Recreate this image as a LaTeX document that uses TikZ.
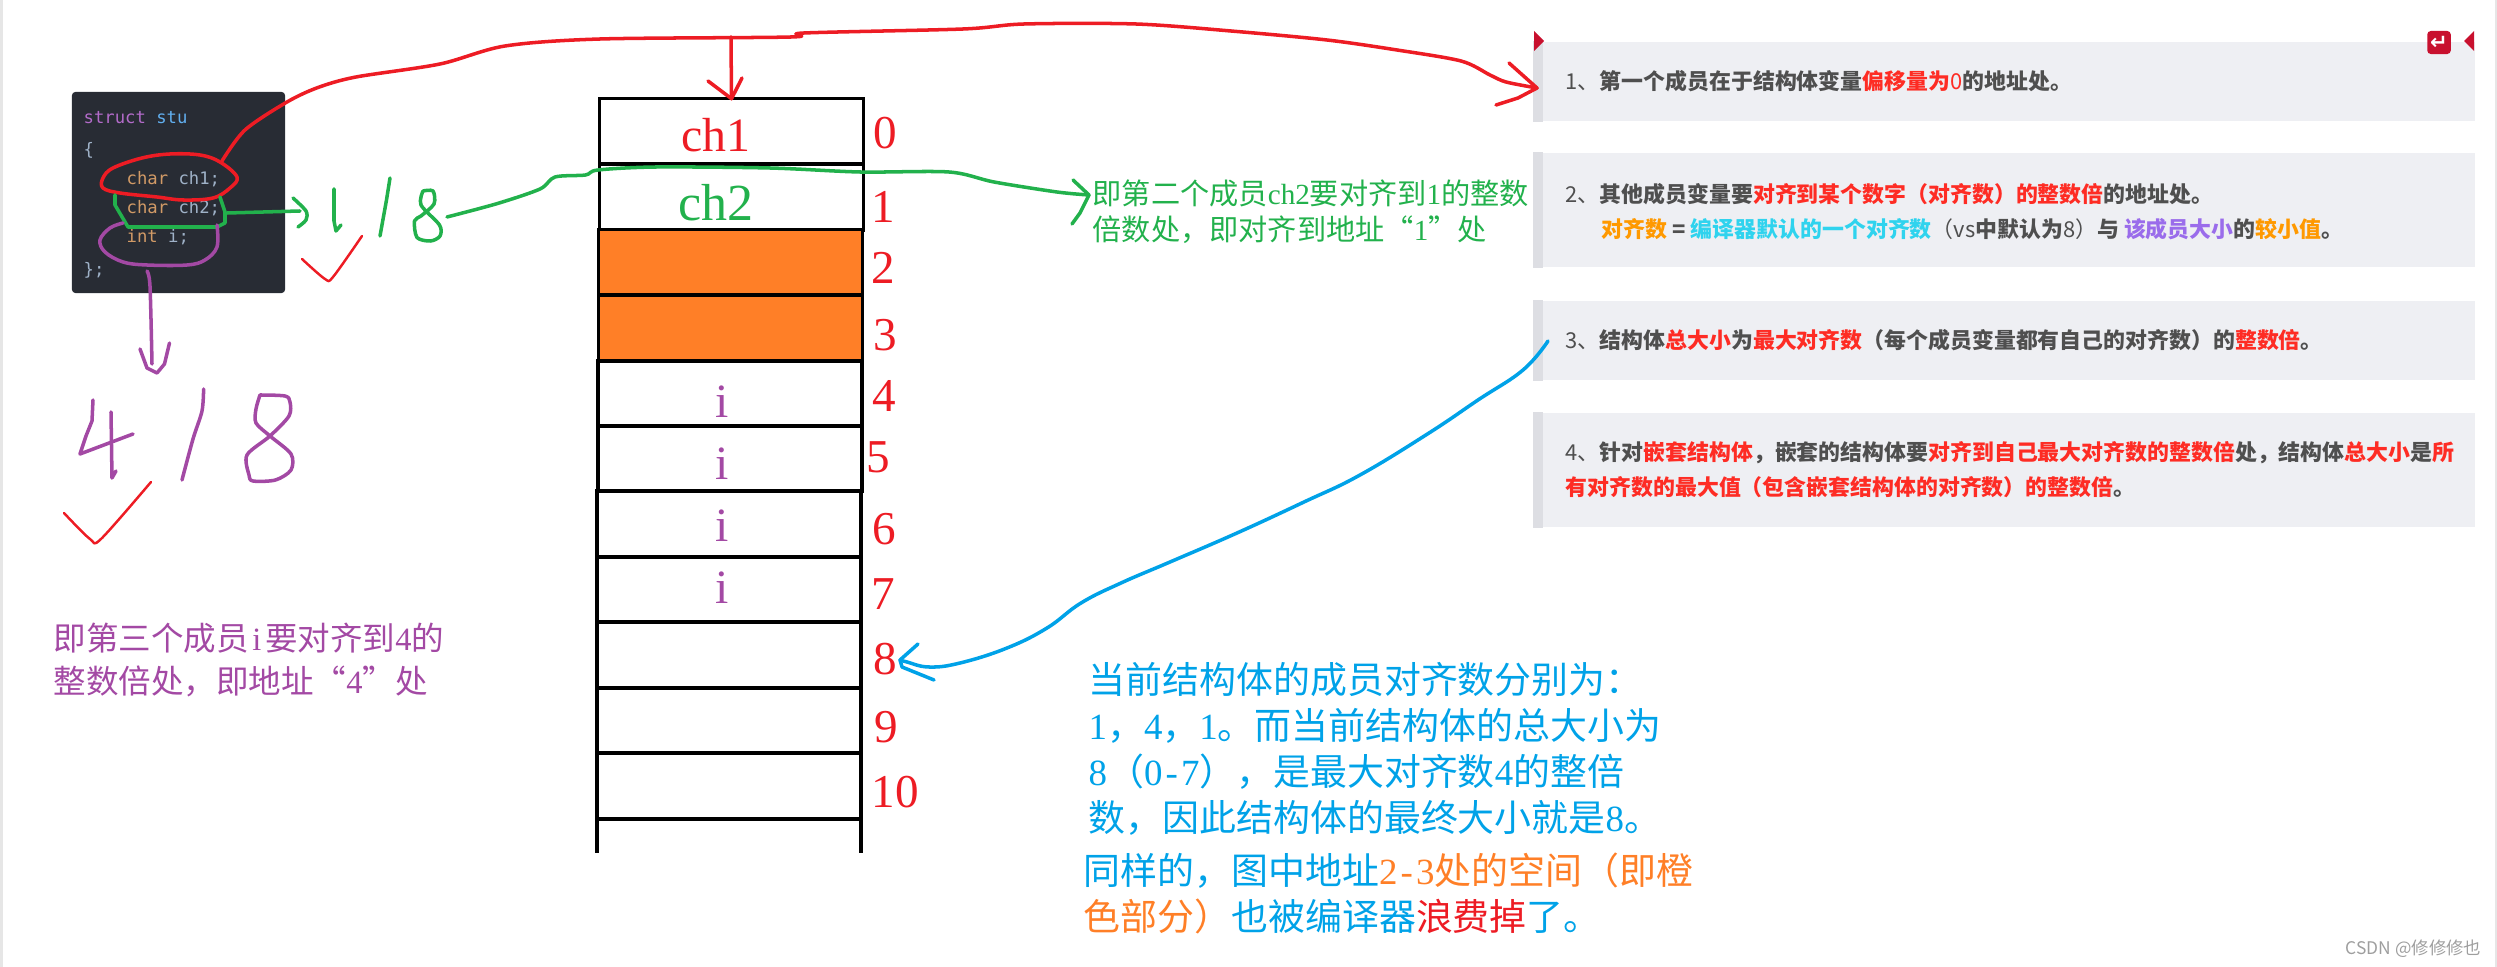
\documentclass[tikz,border=0pt]{standalone}
\usepackage{fontspec}
\setmainfont{Liberation Serif}
\newfontfamily\cjkfont{Noto Sans CJK SC}
\newfontfamily\codefont{DejaVu Sans Mono}
\newfontfamily\arrowfont{DejaVu Sans}
\newcommand{\lat}[1]{{\rmfamily #1}}
\newcommand{\halfw}[1]{\makebox[.5em]{\rmfamily #1}}
\newcommand{\thinw}[1]{{\mdseries #1}}
\newcommand{\redword}[1]{\textcolor{wordred}{#1}}
\newcommand{\ambword}[1]{\textcolor{wordamber}{#1}}
\definecolor{penred}{HTML}{ED1C24}
\definecolor{pengreen}{HTML}{22B14C}
\definecolor{penpurple}{HTML}{A349A4}
\definecolor{penblue}{HTML}{00A2E8}
\definecolor{penorange}{HTML}{FF7F27}
\definecolor{codebg}{HTML}{282C34}
\definecolor{codekey}{HTML}{B26BC9}
\definecolor{codename}{HTML}{61AFEF}
\definecolor{codetype}{HTML}{D19A66}
\definecolor{codetext}{HTML}{9FB2C8}
\definecolor{panelbg}{HTML}{EEEFF3}
\definecolor{panelbar}{HTML}{DDDEE3}
\definecolor{panelred}{HTML}{C8102E}
\definecolor{paneltext}{HTML}{4F4F4F}
\definecolor{wordred}{HTML}{FE2C24}
\definecolor{wordamber}{HTML}{FF9900}
\definecolor{wordcyan}{HTML}{2FD3EE}
\definecolor{wordviolet}{HTML}{9A6CEB}
\definecolor{edgegray}{HTML}{E6E6E6}

\begin{document}
\begin{tikzpicture}[x=.01cm, y=-.01cm,
   pen/.style={line width=1pt, line cap=round, line join=round},
   thinpen/.style={line width=.7pt, line cap=round, line join=round},
   memcell/.style={draw=black, line width=1pt, outer sep=0, minimum width=2.64cm, minimum height=.655cm, inner sep=0},
   addr/.style={text=penred, inner sep=0, font=\fontsize{13.4}{16}\selectfont},
   codeline/.style={anchor=west, inner sep=0, font=\codefont\fontsize{4.9}{6}\selectfont},
   note/.style={anchor=west, inner sep=0, align=left},
   panelbox/.style={fill=panelbg, minimum width=9.41cm, inner sep=0},
   ruletext/.style={anchor=west, inner sep=0, align=left, text=paneltext, font=\cjkfont\bfseries\fontsize{6.23}{9.9}\selectfont}]
   \useasboundingbox (0,0) rectangle (2497,967);
   \fill[edgegray] (0,0) rectangle (3,967);
   \fill[edgegray] (2495,0) rectangle (2497,967);

   \node[panelbox, minimum height=.79cm] (rule1) at (2004.5,81.5) {};
   \node[panelbox, minimum height=1.145cm] (rule2) at (2004.5,210) {};
   \node[panelbox, minimum height=.79cm] (rule3) at (2004.5,340.5) {};
   \node[panelbox, minimum height=1.14cm] (rule4) at (2004.5,470) {};
   \fill[panelbar] (rule1.north west) rectangle ([xshift=.1cm]rule1.south west);
   \fill[panelbar] (rule2.north west) rectangle ([xshift=.1cm]rule2.south west);
   \fill[panelbar] (rule3.north west) rectangle ([xshift=.1cm]rule3.south west);
   \fill[panelbar] (rule4.north west) rectangle ([xshift=.1cm]rule4.south west);
   \fill[panelred] (1534,31) -- (1544,41) -- (1534,51) -- cycle;
   \fill[panelred] (2474,31) -- (2464,41) -- (2474,51) -- cycle;
   \node[fill=panelred, rounded corners=1pt, minimum width=.235cm, minimum height=.23cm, inner sep=0, text=white, font=\arrowfont\bfseries\fontsize{6}{6}\selectfont] (returnicon) at (2439,42.5) {↵};

   \node[ruletext] (ruletext1) at (1565,81) {\thinw{1、}第一个成员在于结构体变量\redword{偏移量为\thinw{0}}的地址处。};
   \node[ruletext] (ruletext2) at (1565,194) {\thinw{2、}其他成员变量要\redword{对齐到某个数字（对齐数）的整数倍}的地址处。};
   \node[ruletext] (ruletext2b) at (1601,229) {\ambword{对齐数} = \textcolor{wordcyan}{编译器默认的一个对齐数}\thinw{（vs}中默认为\thinw{8）}与 \textcolor{wordviolet}{该成员大小}的\ambword{较小值}。};
   \node[ruletext] (ruletext3) at (1565,340) {\thinw{3、}结构体\redword{总大小}为\redword{最大对齐数}（每个成员变量都有自己的对齐数）的\redword{整数倍}。};
   \node[ruletext] (ruletext4) at (1565,470) {\thinw{4、}针对\redword{嵌套结构体}，嵌套的结构体要\redword{对齐到自己最大对齐数的整数倍}处，结构体\redword{总大小}是\redword{所}\\\redword{有对齐数的最大值（包含嵌套结构体的对齐数）的整数倍}。};

   \node[fill=codebg, minimum width=2.13cm, minimum height=2.01cm, rounded corners=1pt, inner sep=0] (codebox) at (178.5,192.5) {};
   \node[codeline] (codehead) at (83,118) {\textcolor{codekey}{struct} \textcolor{codename}{stu}};
   \node[codeline, text=codetext] (codeopen) at (83,150) {\{};
   \node[codeline] (codech1) at (126,179) {\textcolor{codetype}{char} \textcolor{codetext}{ch1;}};
   \node[codeline] (codech2) at (126,208) {\textcolor{codetype}{char} \textcolor{codetext}{ch2;}};
   \node[codeline] (codei) at (126,237) {\textcolor{codetype}{int} \textcolor{codetext}{i;}};
   \node[codeline, text=codetext] (codeclose) at (83,270) {\};};

   \node[memcell] (cell0) at (731.5,131.5) {};
   \node[memcell] (cell1) at (731.5,197) {};
   \node[memcell, fill=penorange] (cell2) at (730.5,262.5) {};
   \node[memcell, fill=penorange] (cell3) at (730.5,328) {};
   \node[memcell] (cell4) at (730,393.5) {};
   \node[memcell] (cell5) at (730,458.5) {};
   \node[memcell] (cell6) at (729,524) {};
   \node[memcell] (cell7) at (729,589.5) {};
   \node[memcell] (cell8) at (729,655) {};
   \node[memcell] (cell9) at (729,720.5) {};
   \node[memcell] (cell10) at (729,786) {};
   \coordinate (tailend) at (729,853);
   \draw[line width=1pt] (cell10.south west) -- (cell10.south west |- tailend);
   \draw[line width=1pt] (cell10.south east) -- (cell10.south east |- tailend);

   \node[inner sep=0, text=penred, font=\fontsize{13.6}{16}\selectfont] (name0) at (716,135) {ch1};
   \node[inner sep=0, text=pengreen, font=\fontsize{14.8}{16}\selectfont] (name1) at (716,203) {ch2};
   \node[inner sep=0, text=penpurple, font=\fontsize{13.6}{16}\selectfont] (name4) at (722,402) {i};
   \node[inner sep=0, text=penpurple, font=\fontsize{13.6}{16}\selectfont] (name5) at (722,464) {i};
   \node[inner sep=0, text=penpurple, font=\fontsize{13.6}{16}\selectfont] (name6) at (722,526) {i};
   \node[inner sep=0, text=penpurple, font=\fontsize{13.6}{16}\selectfont] (name7) at (722,588) {i};

   \node[addr] (addr0) at (885,133) {0};
   \node[addr] (addr1) at (883,207) {1};
   \node[addr] (addr2) at (883,268) {2};
   \node[addr] (addr3) at (885,335) {3};
   \node[addr] (addr4) at (884,396) {4};
   \node[addr] (addr5) at (878,457) {5};
   \node[addr] (addr6) at (884,529) {6};
   \node[addr] (addr7) at (883,594) {7};
   \node[addr] (addr8) at (885,659) {8};
   \node[addr] (addr9) at (886,727) {9};
   \node[addr] (addr10) at (895,792) {10};

   \node[note, text=pengreen, font=\cjkfont\fontsize{8.3}{10.24}\selectfont] (greennote) at (1092,212) {即第二个成员\lat{ch2}要对齐到\lat{1}的整数\\倍数处，即对齐到地址“\lat{1}”处};
   \node[note, text=penpurple, font=\cjkfont\fontsize{9.25}{12.5}\selectfont] (purplenote) at (53,660) {即第三个成员\halfw{i}要对齐到\lat{4}的\\整数倍处，即地址“\lat{4}”处};
   \node[note, text=penblue, font=\cjkfont\fontsize{10.5}{13.1}\selectfont] (bluenote) at (1088,749) {当前结构体的成员对齐数分别为：\\\lat{1}，\lat{4}，\lat{1}。而当前结构体的总大小为\\\lat{8}（\lat{0}\halfw{-}\lat{7}），是最大对齐数\lat{4}的整倍\\数，因此结构体的最终大小就是\lat{8}。};
   \node[note, text=penblue, font=\cjkfont\fontsize{10.5}{13.1}\selectfont] (wastenote) at (1083,893) {同样的，图中地址\textcolor{penorange}{\lat{2}\halfw{-}\lat{3}处的空间（即橙}\\\textcolor{penorange}{色部分）}也被编译器\textcolor{penred}{浪费掉}了。};

   \node[inner sep=0, anchor=east, text=black!38, font=\cjkfont\fontsize{4.95}{6}\selectfont] (watermark) at (2482,949) {CSDN @修修修也};

   \coordinate (redstart) at (222,161);
   \coordinate (redtip) at (1537,88);
   \coordinate (redfork) at (731,37);
   \coordinate (greenstart) at (227,213);
   \coordinate (greentip) at (300,211);
   \coordinate (tagstart) at (447,217);
   \coordinate (tagtip) at (1089,195);
   \coordinate (purplestart) at (147,271);
   \coordinate (purpletip) at (157,373);
   \coordinate (bluestart) at (1548,341);
   \coordinate (bluetip) at (900,660);

   \draw[pen, penred] plot[smooth cycle, tension=.6] coordinates {(220,162) (237,177) (230,188) (213,198) (183,200) (157,197) (120,193) (103,188) (103,178) (113,168) (142,158) (170,154) (200,155)};
   \draw[pen, penred] plot[smooth, tension=.5] coordinates {(redstart) (245,130) (287,102) (318,87.5) (356,77) (440,64) (505,46) (600,39) (791,37) (804,33) (963,29) (1024,24) (1136,24) (1231,31) (1327,40) (1397,50) (1461,61) (1490,75) (1506,82) (redtip)};
   \draw[pen, penred] (1509,63) -- (redtip) -- (1518,98) -- (1496,105);
   \draw[pen, penred] (redfork) -- (cell0.north);
   \draw[pen, penred] (708,81) -- (cell0.north) -- (742,78);

   \draw[pen, pengreen] (115,195) -- (115,205) -- (128,227) -- (217,227) -- (225,223) -- (225,212) -- (220,197);
   \draw[pen, pengreen] (greenstart) -- (greentip);
   \draw[pen, pengreen] plot[smooth, tension=.5] coordinates {(293,198) (306,211) (306,220) (298,227)};
   \draw[pen, pengreen] (334,189) -- (334,221) -- (336,231) -- (341,225);
   \draw[pen, pengreen] (390,178) -- (386.5,200) -- (380,236);
   \draw[pen, pengreen] plot[smooth, tension=.5] coordinates {(423,191) (433,191) (434,204) (421,216) (414.5,221) (417,237.5) (430.5,241) (440,236) (439.5,225) (421,205) (423,191)};
   \draw[pen, pengreen] plot[smooth, tension=.5] coordinates {(tagstart) (497.5,203.5) (540,189) (555,177) (585.5,175) (598,170) (656,167) (770,168) (860,172) (949,172) (994,182) (1057,192) (tagtip)};
   \draw[pen, pengreen] (1073,180) -- (tagtip) -- (1080,213) -- (1072,224);

   \draw[pen, penpurple] plot[smooth, tension=.6] coordinates {(123,223) (110,228) (100,240) (105,252) (123,262) (147,265) (187,265) (205,260) (217,247) (217,225)};
   \draw[pen, penpurple] plot[smooth, tension=.5] coordinates {(purplestart) (150,286) (152,364)};
   \draw[pen, penpurple] (140,349) -- (147,368) -- (purpletip) -- (164.5,364) -- (169.5,343);
   \draw[pen, penpurple] (93,400) -- (92,421) -- (86,436) -- (80,454) -- (133,434);
   \draw[pen, penpurple] (111,412) -- (112,478) -- (116,471);
   \draw[pen, penpurple] plot[smooth, tension=.5] coordinates {(203.6,389) (202,411) (193,439) (182,480)};
   \draw[pen, penpurple] plot[smooth, tension=.5] coordinates {(260,395) (285,396) (290,402) (289,416) (270,436) (247,455) (249,475) (253,481) (275.5,480) (291,470) (291,454) (270,436) (256,423) (256,409) (260,395)};

   \draw[thinpen, penred] plot[smooth, tension=.5] coordinates {(302,259) (325,279) (333,277) (362,236)};
   \draw[thinpen, penred] plot[smooth, tension=.5] coordinates {(64,513) (90,539) (101,539) (151,482)};

   \draw[pen, penblue] plot[smooth, tension=.7] coordinates {(bluestart) (1523,370) (1478,400) (1429,433) (1360,475) (1304,502) (1237,533) (1170,562) (1121,583) (1081,603) (1047,628) (1007,648) (960,663) (929,667) (907,662) (bluetip)};
   \draw[pen, penblue] (918,644) -- (bluetip) -- (902,667) -- (934,680);
\end{tikzpicture}
\end{document}
